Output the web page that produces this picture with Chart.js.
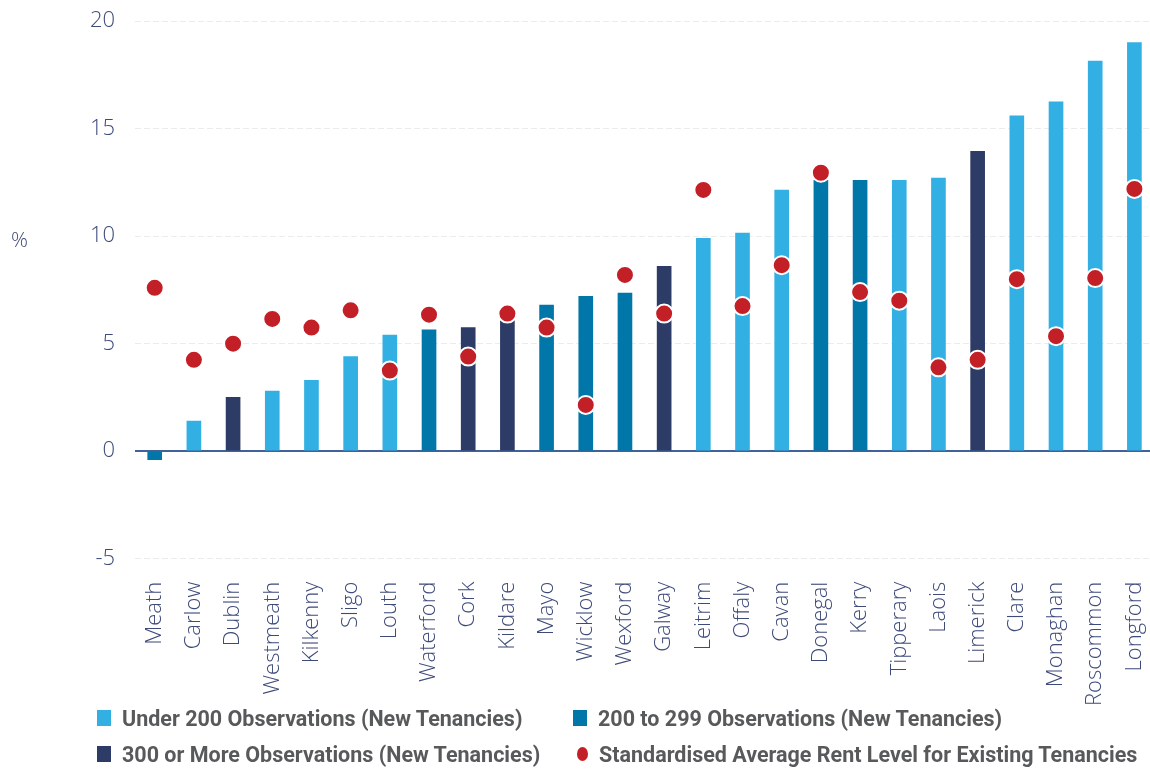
<!DOCTYPE html>
<html>
<head>
<meta charset="utf-8">
<script src="https://cdn.jsdelivr.net/npm/chart.js@4.4.1/dist/chart.umd.min.js"></script>
<style>
  body { margin: 0; background: #fff; width: 1150px; height: 770px; overflow: hidden; position: relative; }
  #wrap { position: absolute; left: 0; top: 0; width: 1176px; height: 721px; }
  #unit { position: absolute; left: 11px; top: 225px; font: 300 21px 'Open Sans', sans-serif; color: #3d4a7a; }
  #legend { position: absolute; left: 97px; top: 705px; display: grid; grid-template-columns: 476px auto; row-gap: 10px;
            font: bold 21.5px 'Liberation Sans Narrow', 'Roboto', sans-serif; color: #58595b; }
  #legend div { display: flex; align-items: center; height: 26px; }
  #legend span.box { width: 14px; height: 16px; margin-right: 11px; display: inline-block; }
  #legend span.dot { width: 11px; height: 14px; border-radius: 50%; margin-right: 11px; margin-left: 4px; display: inline-block; }
</style>
</head>
<body>
<div id="wrap"><canvas id="chart"></canvas></div>
<div id="unit">%</div>
<div id="legend"></div>
<script>
const counties = ['Meath', 'Carlow', 'Dublin', 'Westmeath', 'Kilkenny', 'Sligo', 'Louth', 'Waterford', 'Cork',
  'Kildare', 'Mayo', 'Wicklow', 'Wexford', 'Galway', 'Leitrim', 'Offaly', 'Cavan', 'Donegal', 'Kerry',
  'Tipperary', 'Laois', 'Limerick', 'Clare', 'Monaghan', 'Roscommon', 'Longford'];
// annual change in new tenancies rent (%)
const newTenancies = [-0.4, 1.4, 2.5, 2.8, 3.3, 4.4, 5.4, 5.65, 5.75, 6.2, 6.8, 7.2, 7.35, 8.6, 9.9, 10.15,
  12.15, 12.6, 12.6, 12.6, 12.7, 13.95, 15.6, 16.25, 18.15, 19.0];
// observation band per county: 0 = under 200, 1 = 200 to 299, 2 = 300 or more
const obsBand = [1, 0, 2, 0, 0, 0, 0, 1, 2, 2, 1, 1, 1, 2, 0, 0, 0, 1, 1, 0, 0, 2, 0, 0, 0, 0];
const existingTenancies = [7.6, 4.25, 5.0, 6.15, 5.75, 6.55, 3.75, 6.35, 4.4, 6.4, 5.75, 2.15, 8.2, 6.4,
  12.15, 6.75, 8.65, 12.95, 7.4, 7.0, 3.9, 4.25, 8.0, 5.35, 8.05, 12.2];
const bandLabels = ['Under 200 Observations (New Tenancies)', '200 to 299 Observations (New Tenancies)',
  '300 or More Observations (New Tenancies)'];
const dotLabel = 'Standardised Average Rent Level for Existing Tenancies';
const yTicks = [-5, 0, 5, 10, 15, 20];

const bandColors = ['#33b0e3', '#0077a8', '#2d3b67'];
const dotColor = '#c31f27';
const textColor = '#3d4a7a';

const barSets = bandLabels.map((label, b) => ({
  type: 'bar',
  label: label,
  data: newTenancies.map((v, i) => obsBand[i] === b ? v : null),
  backgroundColor: bandColors[b],
  barThickness: 14,
  grouped: false,
  order: 2
}));

const chart = new Chart(document.getElementById('chart'), {
  data: {
    labels: counties,
    datasets: [...barSets, {
      type: 'line',
      label: dotLabel,
      data: existingTenancies,
      showLine: false,
      pointRadius: 9,
      pointHoverRadius: 9,
      pointBackgroundColor: dotColor,
      pointBorderColor: '#ffffff',
      pointBorderWidth: 2,
      order: 1
    }]
  },
  options: {
    responsive: true,
    maintainAspectRatio: false,
    animation: false,
    layout: { padding: { left: 82, top: 0, right: 0, bottom: 0 } },
    plugins: { legend: { display: false }, tooltip: { enabled: false } },
    scales: {
      x: {
        grid: { display: false },
        border: { display: false },
        ticks: {
          color: textColor,
          font: { family: 'Open Sans', size: 22, weight: 300 },
          minRotation: 90, maxRotation: 90,
          padding: 15,
          autoSkip: false
        }
      },
      y: {
        min: -5, max: 20,
        afterBuildTicks: axis => { axis.ticks = yTicks.map(v => ({ value: v })); },
        grid: {
          tickLength: 12,
          tickColor: 'transparent',
          color: ctx => ctx.tick && ctx.tick.value === 0 ? '#40619a' : '#ececec',
          lineWidth: ctx => ctx.tick && ctx.tick.value === 0 ? 2 : 1
        },
        border: {
          display: false,
          dash: ctx => ctx.tick && ctx.tick.value === 0 ? [] : [6, 3]
        },
        ticks: {
          color: textColor,
          font: { family: 'Open Sans', size: 22, weight: 300 },
          padding: 8
        }
      }
    }
  }
});

// two-column legend built from the chart's datasets
const legend = document.getElementById('legend');
chart.data.datasets.forEach(ds => {
  const item = document.createElement('div');
  const mark = document.createElement('span');
  if (ds.type === 'line') {
    mark.className = 'dot';
    mark.style.background = ds.pointBackgroundColor;
  } else {
    mark.className = 'box';
    mark.style.background = ds.backgroundColor;
  }
  item.appendChild(mark);
  item.appendChild(document.createTextNode(ds.label));
  legend.appendChild(item);
});
</script>
</body>
</html>
